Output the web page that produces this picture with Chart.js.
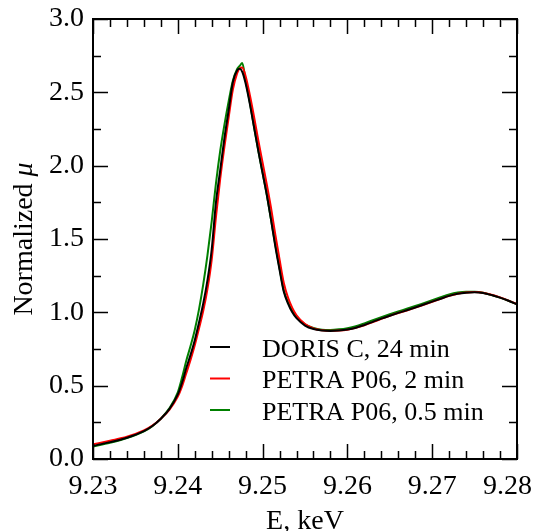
<!DOCTYPE html>
<html>
<head>
<meta charset="utf-8">
<script src="https://cdn.jsdelivr.net/npm/chart.js@4.4.1/dist/chart.umd.min.js"></script>
<style>
  body { margin: 0; background: #fff; }
  #wrap { width: 533px; height: 531px; }
</style>
</head>
<body>
<div id="wrap"><canvas id="myChart" width="533" height="531"></canvas></div>
<script>
'use strict';

// energy grid, keV
let energies = [9.2300, 9.2320, 9.2340, 9.2360, 9.2370, 9.2380, 9.2390, 9.2400, 9.2405, 9.2410,
    9.2415, 9.2420, 9.2425, 9.2430, 9.2435, 9.2440, 9.2445, 9.2450, 9.2455, 9.2460,
    9.2465, 9.2470, 9.2473, 9.2476, 9.2480, 9.2485, 9.2490, 9.2495, 9.2500, 9.2505,
    9.2510, 9.2515, 9.2520, 9.2525, 9.2530, 9.2535, 9.2540, 9.2550, 9.2560, 9.2570,
    9.2580, 9.2590, 9.2600, 9.2610, 9.2620, 9.2630, 9.2640, 9.2650, 9.2660, 9.2670,
    9.2680, 9.2690, 9.2700, 9.2710, 9.2720, 9.2730, 9.2740, 9.2750, 9.2760, 9.2770,
    9.2780, 9.2790, 9.2800];

let dorisMu = [0.090, 0.115, 0.145, 0.190, 0.225, 0.275, 0.340, 0.440, 0.520, 0.620,
    0.710, 0.810, 0.930, 1.060, 1.220, 1.430, 1.750, 1.970, 2.190, 2.380,
    2.570, 2.650, 2.660, 2.640, 2.560, 2.420, 2.260, 2.100, 1.950, 1.800,
    1.630, 1.450, 1.290, 1.140, 1.060, 1.000, 0.960, 0.910, 0.886, 0.876,
    0.873, 0.876, 0.883, 0.895, 0.914, 0.935, 0.957, 0.977, 0.996, 1.014,
    1.033, 1.053, 1.073, 1.093, 1.112, 1.126, 1.134, 1.137, 1.132, 1.118,
    1.100, 1.079, 1.055];

let petra2Mu = [0.100, 0.125, 0.152, 0.195, 0.228, 0.275, 0.335, 0.425, 0.495, 0.585,
    0.675, 0.775, 0.890, 1.010, 1.160, 1.360, 1.650, 1.910, 2.130, 2.330,
    2.520, 2.630, 2.665, 2.670, 2.610, 2.480, 2.330, 2.170, 2.020, 1.870,
    1.710, 1.530, 1.360, 1.200, 1.100, 1.030, 0.980, 0.920, 0.890, 0.878,
    0.874, 0.876, 0.882, 0.894, 0.912, 0.933, 0.955, 0.976, 0.995, 1.013,
    1.032, 1.052, 1.072, 1.092, 1.112, 1.127, 1.135, 1.138, 1.134, 1.120,
    1.102, 1.080, 1.056];

let petra05Mu = [0.085, 0.110, 0.142, 0.188, 0.224, 0.275, 0.345, 0.455, 0.555, 0.670,
    0.770, 0.880, 1.020, 1.190, 1.390, 1.620, 1.880, 2.100, 2.280, 2.440,
    2.580, 2.660, 2.680, 2.700, 2.580, 2.430, 2.260, 2.100, 1.950, 1.800,
    1.630, 1.460, 1.300, 1.150, 1.070, 1.010, 0.970, 0.918, 0.893, 0.882,
    0.880, 0.884, 0.892, 0.905, 0.925, 0.946, 0.967, 0.987, 1.006, 1.024,
    1.043, 1.063, 1.083, 1.103, 1.122, 1.135, 1.141, 1.140, 1.133, 1.118,
    1.100, 1.079, 1.055];

let seriesNames = ['DORIS C, 24 min', 'PETRA P06, 2 min', 'PETRA P06, 0.5 min'];
let seriesColors = ['#000000', '#ff0000', '#008000'];
let allSeries = [dorisMu, petra2Mu, petra05Mu];

let xTicks = [9.23, 9.24, 9.25, 9.26, 9.27, 9.28];
let yTicks = [0.0, 0.5, 1.0, 1.5, 2.0, 2.5, 3.0];

function toPoints(values) {
    let pts = [];
    for (let i = 0; i < energies.length; i++) {
        pts.push({ x: energies[i], y: values[i] });
    }
    return pts;
}

let datasets = [];
for (let i = 0; i < allSeries.length; i++) {
    datasets.push({
        label: seriesNames[i],
        data: toPoints(allSeries[i]),
        borderColor: seriesColors[i],
        backgroundColor: seriesColors[i],
        borderWidth: 2,
        pointRadius: 0,
        cubicInterpolationMode: 'monotone',
        fill: false
    });
}

// frame, inward ticks, x labels, legend and axis titles
let framePlugin = {
    id: 'frame',
    afterDraw(chart) {
        let ctx = chart.ctx;
        let a = chart.chartArea;
        let xs = chart.scales.x;
        let ys = chart.scales.y;
        ctx.save();
        ctx.strokeStyle = '#000';
        ctx.lineWidth = 1.5;
        ctx.beginPath();
        // x ticks every 0.002, long every 0.01
        for (let i = 0; i <= 25; i++) {
            let v = xs.min + i * (xs.max - xs.min) / 25;
            let px = Math.round(xs.getPixelForValue(v)) + 0.5;
            let len = (i % 5 === 0) ? 15 : 8;
            ctx.moveTo(px, a.bottom); ctx.lineTo(px, a.bottom - len);
            ctx.moveTo(px, a.top); ctx.lineTo(px, a.top + len);
        }
        // y ticks every 0.25, long every 0.5
        for (let i = 0; i <= 12; i++) {
            let v = ys.min + i * (ys.max - ys.min) / 12;
            let py = Math.round(ys.getPixelForValue(v)) + 0.5;
            let len = (i % 2 === 0) ? 15 : 8;
            ctx.moveTo(a.left, py); ctx.lineTo(a.left + len, py);
            ctx.moveTo(a.right, py); ctx.lineTo(a.right - len, py);
        }
        ctx.stroke();
        ctx.lineWidth = 2;
        ctx.strokeRect(a.left, a.top, a.right - a.left, a.bottom - a.top);

        // x tick labels, last one kept inside the canvas
        ctx.fillStyle = '#000';
        ctx.font = '28px "Liberation Serif"';
        ctx.textAlign = 'center';
        ctx.textBaseline = 'alphabetic';
        for (let i = 0; i < xTicks.length; i++) {
            let txt = xTicks[i].toFixed(2);
            let w = ctx.measureText(txt).width;
            let px = xs.getPixelForValue(xTicks[i]);
            px = Math.min(px, chart.width - 1 - w / 2);
            ctx.fillText(txt, px, 494);
        }

        // legend
        ctx.font = '26px "Liberation Serif"';
        ctx.textAlign = 'left';
        let ds = chart.data.datasets;
        for (let i = 0; i < ds.length; i++) {
            let ly = 347 + i * 31.5;
            ctx.strokeStyle = ds[i].borderColor;
            ctx.lineWidth = 2;
            ctx.beginPath();
            ctx.moveTo(210, ly); ctx.lineTo(230, ly);
            ctx.stroke();
            ctx.fillStyle = '#000';
            ctx.fillText(ds[i].label, 262, ly + 9.5);
        }

        // axis titles
        ctx.fillStyle = '#000';
        ctx.font = '28px "Liberation Serif"';
        ctx.textAlign = 'center';
        ctx.fillText('E, keV', (a.left + a.right) / 2, 529);

        ctx.translate(32, (a.top + a.bottom) / 2);
        ctx.rotate(-Math.PI / 2);
        let t1 = 'Normalized ';
        let t2 = '\u03bc';
        ctx.font = '28px "Liberation Serif"';
        let w1 = ctx.measureText(t1).width;
        ctx.font = 'italic 28px "Liberation Serif"';
        let w2 = ctx.measureText(t2).width;
        let start = -(w1 + w2) / 2;
        ctx.textAlign = 'left';
        ctx.font = '28px "Liberation Serif"';
        ctx.fillText(t1, start, 0);
        ctx.font = 'italic 28px "Liberation Serif"';
        ctx.fillText(t2, start + w1, 0);
        ctx.restore();
    }
};

Chart.defaults.font.family = '"Liberation Serif", "Times New Roman", serif';
Chart.defaults.font.size = 28;
Chart.defaults.color = '#000';

let ctx = document.getElementById('myChart').getContext('2d');
let myChart = new Chart(ctx, {
    type: 'line',
    data: { datasets: datasets },
    options: {
        responsive: false,
        animation: false,
        layout: { autoPadding: false, padding: { top: 19, right: 16, left: 0, bottom: 0 } },
        plugins: { legend: { display: false }, tooltip: { enabled: false } },
        scales: {
            x: {
                type: 'linear',
                min: xTicks[0],
                max: xTicks[xTicks.length - 1],
                afterFit(scale) {
                    scale.height = 72;
                    scale.paddingLeft = 0;
                    scale.paddingRight = 0;
                },
                afterBuildTicks(scale) { scale.ticks = xTicks.map(v => ({ value: v })); },
                grid: { display: false, drawTicks: false },
                border: { display: false },
                ticks: { display: false }
            },
            y: {
                type: 'linear',
                min: yTicks[0],
                max: yTicks[yTicks.length - 1],
                afterFit(scale) {
                    scale.width = 93;
                    scale.paddingTop = 0;
                    scale.paddingBottom = 0;
                },
                afterBuildTicks(scale) { scale.ticks = yTicks.map(v => ({ value: v })); },
                grid: { display: false, drawTicks: false },
                border: { display: false },
                ticks: { padding: 9, callback: v => v.toFixed(1) }
            }
        }
    },
    plugins: [framePlugin]
});
</script>
</body>
</html>
